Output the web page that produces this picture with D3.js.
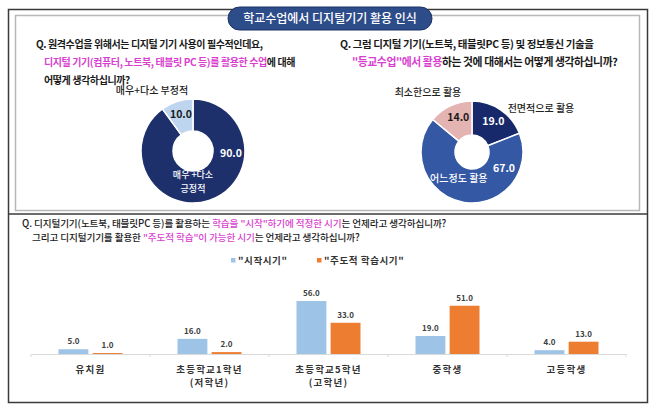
<!DOCTYPE html>
<html><head><meta charset="utf-8">
<script src="https://cdn.jsdelivr.net/npm/d3@7"></script>
<style>
html,body{margin:0;padding:0;background:#fff;}
svg{display:block;}
text{font-family:"Noto Sans CJK KR","Noto Sans",sans-serif;}
</style></head>
<body>
<svg id="c" width="658" height="415"></svg>
<script>
// ---------- data ----------
const titleText = "학교수업에서 디지털기기 활용 인식";
const donut1Labels = ["매우+다소 긍정적", "매우+다소 부정적"];
const donut1Values = [90.0, 10.0];
const donut2Labels = ["전면적으로 활용", "어느정도 활용", "최소한으로 활용"];
const donut2Values = [19.0, 67.0, 14.0];
const categories = ["유치원", "초등학교1학년|(저학년)", "초등학교5학년|(고학년)", "중학생", "고등학생"];
const seriesNames = ["\"시작시기\"", "\"주도적 학습시기\""];
const startValues = [5.0, 16.0, 56.0, 19.0, 4.0];
const leadValues = [1.0, 2.0, 33.0, 51.0, 13.0];

// ---------- styles ----------
const MAG = "#d93fcf", INK = "#1a1a1a";
const svg = d3.select("#c");

// frames
svg.append("rect").attr("x",8.5).attr("y",9.5).attr("width",639).attr("height",393)
  .attr("fill","none").attr("stroke","#3a3a3a").attr("stroke-width",1.5);
svg.append("line").attr("x1",8).attr("x2",648).attr("y1",214).attr("y2",214)
  .attr("stroke","#3a3a3a").attr("stroke-width",1.5);
svg.append("rect").attr("x",15.5).attr("y",15.5).attr("width",624).attr("height",195)
  .attr("fill","none").attr("stroke","#b8b8b8").attr("stroke-width",1.5);

// title pill
svg.append("rect").attr("x",228).attr("y",7).attr("width",204).attr("height",23).attr("rx",11.5)
  .attr("fill","#2d4c8a").attr("stroke","#1c3264").attr("stroke-width",1);
svg.append("text").attr("x",330).attr("y",23).attr("text-anchor","middle")
  .attr("font-size",12).attr("font-weight",500).attr("fill","#fff").text(titleText);

// question texts
function qline(x, y, parts, size, weight, ls){
  const t = svg.append("text").attr("x",x).attr("y",y).attr("font-size",size)
    .attr("font-weight",weight).attr("letter-spacing", ls === undefined ? -0.4 : ls);
  parts.forEach(p => t.append("tspan").attr("fill", p[1] ? MAG : INK).text(p[0]));
  return t;
}
qline(36, 48, [["Q. 원격수업을 위해서는 디지털 기기 사용이 필수적인데요,",0]], 10, 700);
qline(44, 66, [["디지털 기기(컴퓨터, 노트북, 태블릿 PC 등)를 활용한 수업",1],["에 대해",0]], 10, 700);
qline(44, 84, [["어떻게 생각하십니까?",0]], 10, 700);
qline(340, 48, [["Q. 그럼 디지털 기기(노트북, 태블릿PC 등) 및 정보통신 기술을",0]], 10.5, 700);
qline(352, 66, [["\"등교수업\"에서 활용",1],["하는 것에 대해서는 어떻게 생각하십니까?",0]], 10.8, 700);

// ---------- donuts ----------
function polar(r, deg){ const a = deg*Math.PI/180; return [r*Math.sin(a), -r*Math.cos(a)]; }

// donut 1
const d1 = d3.pie().sort(null).value(d=>d)(donut1Values);
{
  const cx=193, cy=151, rO=52, rI=20;
  const colors=["#1d306c","#bdd5ee"];
  const arc = d3.arc().innerRadius(rI).outerRadius(rO);
  const g = svg.append("g").attr("transform",`translate(${cx},${cy})`);
  g.selectAll("path").data(d1).join("path").attr("d",arc)
    .attr("fill",(d,i)=>colors[i]).attr("stroke","#fff").attr("stroke-width",1.5);
  const mid1 = (d1[1].startAngle+d1[1].endAngle)/2*180/Math.PI;
  let p = polar(39, mid1);
  g.append("text").attr("x",p[0]).attr("y",p[1]+4).attr("text-anchor","middle")
    .attr("font-size",10.5).attr("font-weight",700).attr("fill","#1a1a1a").text(donut1Values[1].toFixed(1));
  p = polar(38, 93);
  g.append("text").attr("x",p[0]).attr("y",p[1]+4).attr("text-anchor","middle")
    .attr("font-size",10.5).attr("font-weight",700).attr("fill","#fff").text(donut1Values[0].toFixed(1));
  p = polar(31, 180);
  g.append("text").attr("x",p[0]).attr("y",p[1]-4).attr("text-anchor","middle")
    .attr("font-size",9).attr("font-weight",500).attr("fill","#fff").text("매우 +다소");
  g.append("text").attr("x",p[0]).attr("y",p[1]+9.5).attr("text-anchor","middle")
    .attr("font-size",9).attr("font-weight",500).attr("fill","#fff").text("긍정적");
  g.append("text").attr("x",-41).attr("y",-57).attr("text-anchor","middle")
    .attr("font-size",10).attr("font-weight",500).attr("fill","#222").text(donut1Labels[1]);
}
// donut 2
{
  const cx=472, cy=152, rO=51, rI=17;
  const colors=["#17296a","#3558a5","#e4b4b3"];
  const arcsD = d3.pie().sort(null).value(d=>d)(donut2Values);
  const arc = d3.arc().innerRadius(rI).outerRadius(rO);
  const g = svg.append("g").attr("transform",`translate(${cx},${cy})`);
  g.selectAll("path").data(arcsD).join("path").attr("d",arc)
    .attr("fill",(d,i)=>colors[i]).attr("stroke","#fff").attr("stroke-width",1.5);
  const valColors=["#fff","#fff","#1a1a1a"];
  const valPos=[null,[36,117],null];
  arcsD.forEach((d,i)=>{
    let p;
    if(valPos[i]) p = polar(valPos[i][0], valPos[i][1]);
    else { const m=(d.startAngle+d.endAngle)/2*180/Math.PI; p = polar(38, m + (i===2?4:0)); }
    g.append("text").attr("x",p[0]).attr("y",p[1]+4).attr("text-anchor","middle")
      .attr("font-size",10.5).attr("font-weight",700).attr("fill",valColors[i]).text(d.data.toFixed(1));
  });
  let p = polar(29, 207);
  g.append("text").attr("x",p[0]).attr("y",p[1]+4).attr("text-anchor","middle")
    .attr("font-size",10).attr("font-weight",500).attr("fill","#fff").text(donut2Labels[1]);
  g.append("text").attr("x",69).attr("y",-40).attr("text-anchor","middle")
    .attr("font-size",10).attr("font-weight",500).attr("fill","#222").text(donut2Labels[0]);
  g.append("text").attr("x",-44).attr("y",-56).attr("text-anchor","middle")
    .attr("font-size",10).attr("font-weight",500).attr("fill","#222").text(donut2Labels[2]);
}

// ---------- bottom question ----------
qline(22, 227, [["Q. 디지털기기(노트북, 태블릿PC 등)를 활용하는 ",0],["학습을 \"시작\"하기에 적정한 시기",1],["는 언제라고 생각하십니까?",0]], 9.6, 500, -0.1);
qline(32, 241, [["그리고 디지털기기를 활용한 ",0],["\"주도적 학습\"이 가능한 시기",1],["는 언제라고 생각하십니까?",0]], 9.6, 500, -0.1);

// ---------- grouped bar chart ----------
const barColors = ["#9dc3e6","#ed7d31"];
const x0 = d3.scaleBand().domain(categories).range([31,626]).paddingInner(0).paddingOuter(0);
const x1 = d3.scaleBand().domain([0,1]).range([0, 64]).paddingInner(0.125);
const y = d3.scaleLinear().domain([0,56]).range([354,301]);
const seriesData = [startValues, leadValues];

const gb = svg.append("g");
categories.forEach((c,ci)=>{
  const gx = x0(c) + x0.bandwidth()/2 - 32;
  seriesData.forEach((vals,si)=>{
    const v = vals[ci];
    gb.append("rect").attr("x",gx + x1(si)).attr("y",y(v)).attr("width",x1.bandwidth())
      .attr("height",y(0)-y(v)).attr("fill",barColors[si]);
    gb.append("text").attr("x",gx + x1(si) + x1.bandwidth()/2).attr("y",y(v)-5)
      .attr("text-anchor","middle").attr("font-family","DejaVu Sans, Verdana, sans-serif")
      .attr("font-size",8).attr("font-weight",700).attr("fill","#404040").text(v.toFixed(1));
  });
});
// axis
const xAxis = d3.axisBottom(x0).tickSize(0).tickFormat("");
const ax = svg.append("g").attr("transform","translate(0,354)").call(xAxis);
ax.select(".domain").attr("stroke","#d9d9d9").attr("stroke-width",1.2);
categories.concat(["__end"]).forEach((c,i)=>{
  const xx = i < categories.length ? x0(c) : x0.range()[1];
  ax.append("line").attr("x1",xx).attr("x2",xx).attr("y1",0).attr("y2",3).attr("stroke","#d9d9d9");
});
categories.forEach(c=>{
  const lines = c.split("|");
  const t = svg.append("text").attr("text-anchor","middle").attr("font-size",9.5)
    .attr("font-weight",700).attr("letter-spacing",1.2).attr("fill","#333");
  lines.forEach((l,li)=>t.append("tspan").attr("x",x0(c)+x0.bandwidth()/2).attr("y",373+li*12.5).text(l));
});

// legend
const leg = [[231, seriesNames[0]],[317, seriesNames[1]]];
leg.forEach((l,i)=>{
  svg.append("rect").attr("x",l[0]).attr("y",258).attr("width",4.5).attr("height",4.5).attr("fill",barColors[i]);
  svg.append("text").attr("x",l[0]+7).attr("y",264).attr("font-size",9.5).attr("font-weight",700)
    .attr("letter-spacing",0.6).attr("fill","#333").text(l[1]);
});
</script>
</body></html>
